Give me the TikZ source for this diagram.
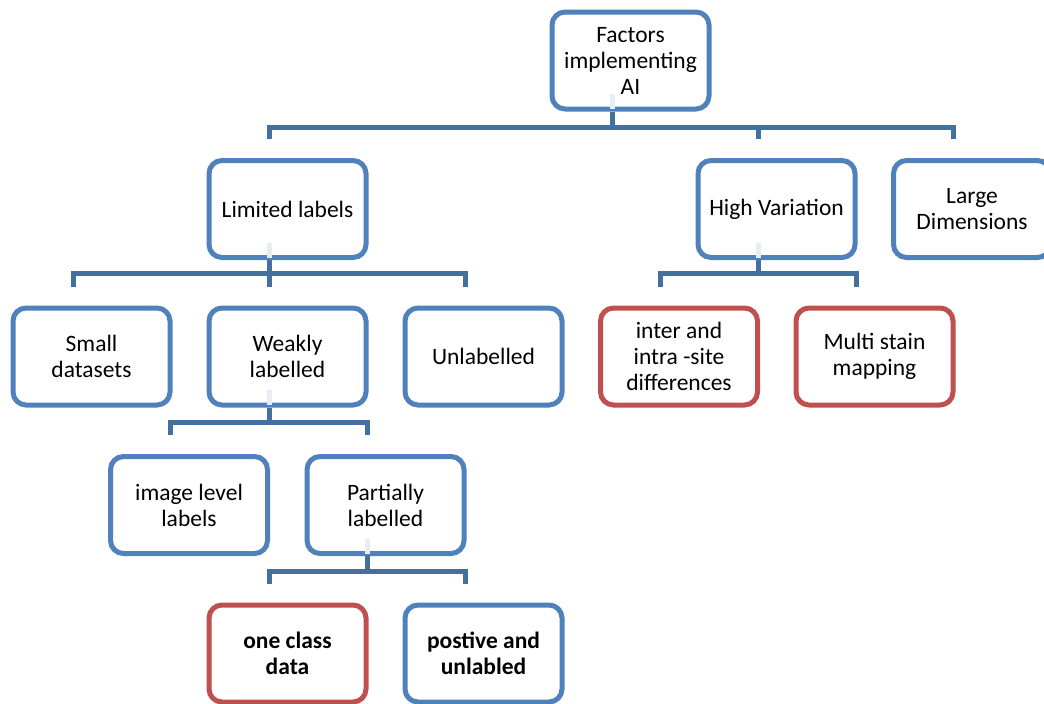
\documentclass[tikz,border=0pt]{standalone}
\usepackage{fontspec}
\setmainfont{Carlito}
\begin{document}
\begin{tikzpicture}[x=1pt,y=-1pt,
  box/.style={draw=boxblue,line width=5pt,rounded corners=13pt,fill=white,
    minimum width=157pt,minimum height=97pt,align=center,inner sep=1pt,
    font=\fontsize{23.5}{26}\selectfont,text=black},
  redbox/.style={box,draw=boxred},
  conn/.style={draw=connblue,line width=5pt},
  stub/.style={draw=stubgray,line width=5pt}]
\definecolor{boxblue}{HTML}{4F81BD}
\definecolor{boxred}{HTML}{C0504D}
\definecolor{connblue}{HTML}{44709F}
\definecolor{stubgray}{HTML}{E7EDF4}
\useasboundingbox (0,0) rectangle (1044,704);
\fill[white] (0,0) rectangle (1044,704);

\node[box] (fac) at (630.5,60.5) {Factors\\implementing\\AI};
\node[box] (lim) at (287.5,209) {Limited labels};
\node[box] (hv)  at (776.5,209) {High Variation};
\node[box] (ld)  at (972,209) {Large\\Dimensions};
\node[box] (sd)  at (91.5,356.5) {Small\\datasets};
\node[box] (wl)  at (287.5,356.5) {Weakly\\labelled};
\node[box] (ul)  at (483.5,356.5) {Unlabelled};
\node[redbox] (ii) at (679,356.5) {inter and\\intra -site\\differences};
\node[redbox] (ms) at (874.5,356.5) {Multi stain\\mapping};
\node[box] (il)  at (189,505) {image level\\labels};
\node[box] (pl)  at (385.5,505) {Partially\\labelled};
\node[redbox] (oc) at (287.5,653.5) {\bfseries one class\\\bfseries data};
\node[box] (pu)  at (483.5,653.5) {\bfseries postive and\\\bfseries unlabled};

% faint stubs inside parent boxes
\foreach \p in {fac,lim,hv,wl,pl}
  \draw[stub] ([xshift=-18.5pt,yshift=2.5pt]\p.south) -- ++(0,-15);

% connectors
\foreach \c in {lim,hv,ld}
  \draw[conn] ([xshift=-18.5pt,yshift=19pt]\c.north) |- ([xshift=-18.5pt,yshift=-16pt]fac.south) -- ([xshift=-18.5pt]fac.south);
\foreach \c in {sd,wl,ul}
  \draw[conn] ([xshift=-18.5pt,yshift=19pt]\c.north) |- ([xshift=-18.5pt,yshift=-13.5pt]lim.south) -- ([xshift=-18.5pt]lim.south);
\foreach \c in {ii,ms}
  \draw[conn] ([xshift=-18.5pt,yshift=19pt]\c.north) |- ([xshift=-18.5pt,yshift=-13.5pt]hv.south) -- ([xshift=-18.5pt]hv.south);
\foreach \c in {il,pl}
  \draw[conn] ([xshift=-18.5pt,yshift=19pt]\c.north) |- ([xshift=-18.5pt,yshift=-15pt]wl.south) -- ([xshift=-18.5pt]wl.south);
\foreach \c in {oc,pu}
  \draw[conn] ([xshift=-18.5pt,yshift=19pt]\c.north) |- ([xshift=-18.5pt,yshift=-15pt]pl.south) -- ([xshift=-18.5pt]pl.south);
\end{tikzpicture}
\end{document}
